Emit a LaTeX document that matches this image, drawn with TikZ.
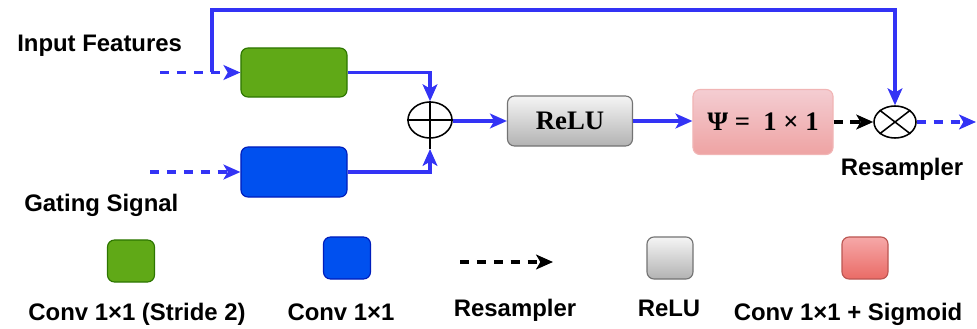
\documentclass[tikz,border=0pt]{standalone}
\usepackage{fontspec}
\setmainfont{Liberation Sans}
\newfontfamily\serifbf{Liberation Serif}
\usetikzlibrary{arrows.meta,shapes.geometric}

\definecolor{flowblue}{RGB}{51,51,245}
\definecolor{convgreen}{HTML}{60A917}
\definecolor{convgreenb}{HTML}{2D7600}
\definecolor{convblue}{HTML}{0050EF}
\definecolor{convblueb}{HTML}{001DBC}
\definecolor{psitop}{HTML}{F4CDD2}
\definecolor{psibot}{HTML}{EEA3A3}
\definecolor{sigtop}{HTML}{F6A8A8}
\definecolor{sigbot}{HTML}{EA6B66}

\begin{document}
\begin{tikzpicture}[x=0.025cm, y=-0.025cm,
	lbl/.style={font=\fontsize{17}{20}\selectfont\bfseries, inner sep=0pt, anchor=base},
	flow/.style={draw=flowblue, line width=2.2pt, -{Stealth[length=12pt,width=10.5pt,inset=3pt]}},
	resample/.style={dash pattern=on 6.5pt off 5.5pt, line width=2.2pt, -{Stealth[length=12pt,width=10.5pt,inset=3pt]}},
	box/.style={rounded corners=5pt, line width=0.8pt},
	op/.style={draw, ellipse, line width=1.1pt, minimum width=1.1cm, minimum height=0.9cm, inner sep=0pt}]

	\useasboundingbox (0,0) rectangle (977,328);

	% main path
	\node[lbl, anchor=base west] (inlbl) at (17,52) {Input Features};
	\node[lbl, anchor=base west] (gatelbl) at (24,211) {Gating Signal};

	\node[box, fill=convgreen, draw=convgreenb, minimum width=2.65cm, minimum height=1.225cm] (wx) at (294,72.5) {};
	\node[box, fill=convblue, draw=convblueb, minimum width=2.65cm, minimum height=1.25cm] (wg) at (294,172) {};

	\node[op] (add) at (430,120) {};
	\draw[line width=1.1pt] (add.west) -- (add.east);
	\coordinate (addin) at (430,149);
	\draw[line width=1.1pt] (add.north) -- (addin);

	\node[box, draw=black!55, top color=black!4, bottom color=black!30, minimum width=3.125cm, minimum height=1.25cm,
	      font=\fontsize{19}{22}\selectfont\serifbf\bfseries] (relu) at (570,121) {ReLU};
	\node[box, draw=psibot!80, top color=psitop, bottom color=psibot, minimum width=3.5cm, minimum height=1.625cm,
	      font=\fontsize{19}{22}\selectfont\serifbf\bfseries] (psi) at (763,122) {Ψ = \ 1 × 1};

	\node[op, minimum height=0.8cm, minimum width=1.05cm] (mul) at (895,122) {};
	\draw[line width=1.1pt] (mul.north west) -- (mul.south east);
	\draw[line width=1.1pt] (mul.south west) -- (mul.north east);
	\node[lbl] (reslbl) at (902,175) {Resampler};

	\coordinate (xin) at (160,72.5);
	\coordinate (gin) at (150,172);
	\coordinate (tap) at (212,72.5);
	\coordinate (top) at (0,10);
	\coordinate (out) at (976,122);

	\draw[resample, draw=flowblue] (xin) -- (wx.west);
	\draw[resample, draw=flowblue] (gin) -- (wg.west);
	\draw[flow] (tap) -- (tap |- top) -| (mul.north);
	\draw[flow] (wx.east) -| (add.north);
	\draw[flow] (wg.east) -| (addin);
	\draw[flow] (add.east |- relu.west) -- (relu.west);
	\draw[flow] (relu.east) -- (psi.west |- relu.east);
	\draw[resample, draw=black] (psi.east) -- (mul.west);
	\draw[resample, draw=flowblue] (mul.east) -- (out);

	% legend
	\node[box, fill=convgreen, draw=convgreenb, minimum width=1.175cm, minimum height=1.05cm] (lgx) at (131,261) {};
	\node[box, fill=convblue, draw=convblueb, minimum width=1.175cm, minimum height=1.05cm] (lgg) at (347,258) {};
	\coordinate (lgs) at (460,262);
	\coordinate (lge) at (553,262);
	\draw[resample, draw=black] (lgs) -- (lge);
	\node[box, draw=black!55, top color=black!4, bottom color=black!30, minimum width=1.15cm, minimum height=1.05cm] (lgr) at (670,258) {};
	\node[box, draw=sigbot!80!black, top color=sigtop, bottom color=sigbot, minimum width=1.15cm, minimum height=1.05cm] (lgp) at (865,258) {};

	\node[lbl] (lgxl) at (137,320) {Conv 1×1 (Stride 2)};
	\node[lbl] (lggl) at (341,320) {Conv 1×1};
	\node[lbl] (lgsl) at (515,316) {Resampler};
	\node[lbl] (lgrl) at (669,316) {ReLU};
	\node[lbl] (lgpl) at (848,320) {Conv 1×1 + Sigmoid};

\end{tikzpicture}
\end{document}
